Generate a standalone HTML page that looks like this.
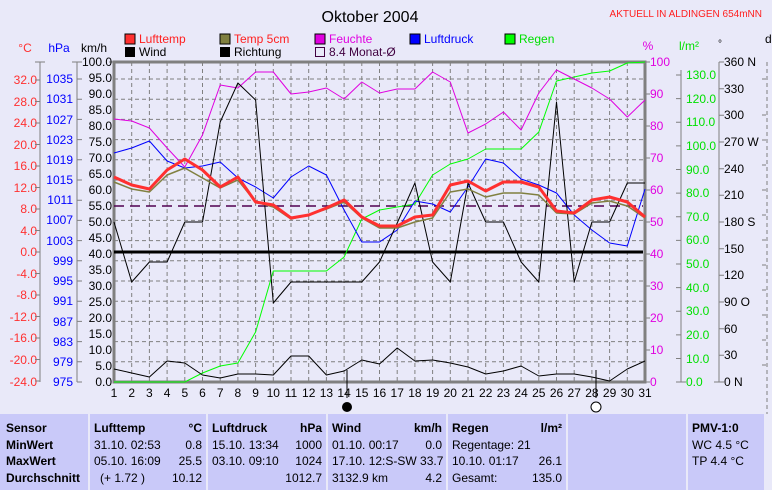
<!DOCTYPE html>
<html><head><meta charset="utf-8"><style>
body{margin:0;background:#e9e9f9;font-family:"Liberation Sans",sans-serif;}
.w{position:relative;width:772px;height:490px;overflow:hidden;background:#e9e9f9;}
svg text{font-family:"Liberation Sans",sans-serif;}
.tb{position:absolute;top:414px;height:80px;background:#c9c9f9;font-size:12px;}
.tb div{position:absolute;white-space:nowrap;}
.b{font-weight:bold;}
</style></head><body><div class="w">
<svg width="772" height="414" style="position:absolute;left:0;top:0">
<text x="370" y="22" font-size="16" text-anchor="middle">Oktober 2004</text>
<text x="762" y="17" font-size="10" fill="#ff2020" text-anchor="end">AKTUELL IN ALDINGEN 654mNN</text>
<g font-size="12">
<rect x="125" y="34" width="10" height="10" fill="#ff3030" stroke="#000"/><text x="139" y="43" fill="#ff2020">Lufttemp</text>
<rect x="125" y="47" width="10" height="10" fill="#000"/><text x="139" y="56">Wind</text>
<rect x="220" y="34" width="10" height="10" fill="#808040" stroke="#000"/><text x="234" y="43" fill="#ff2020">Temp 5cm</text>
<rect x="220" y="47" width="10" height="10" fill="#000"/><text x="234" y="56">Richtung</text>
<rect x="315" y="34" width="10" height="10" fill="#e000e0" stroke="#000"/><text x="329" y="43" fill="#e000e0">Feuchte</text>
<rect x="315.5" y="47.5" width="9" height="9" fill="none" stroke="#400040"/><text x="329" y="56" fill="#400040">8.4 Monat-Ø</text>
<rect x="410" y="34" width="10" height="10" fill="#0000ff" stroke="#000"/><text x="424" y="43" fill="#0000ff">Luftdruck</text>
<rect x="505" y="34" width="10" height="10" fill="#00ff00" stroke="#000"/><text x="519" y="43" fill="#00e000">Regen</text>
<text x="25" y="52" fill="#ff3030" text-anchor="middle">°C</text>
<text x="59" y="52" fill="#0000ff" text-anchor="middle">hPa</text>
<text x="94" y="52" text-anchor="middle">km/h</text>
<text x="648" y="50" fill="#e000e0" text-anchor="middle">%</text>
<text x="689" y="50" fill="#00e000" text-anchor="middle">l/m²</text>
<text x="720" y="47" text-anchor="middle" font-size="10">°</text>
<text x="765" y="43">d</text>
</g>
<!-- grid -->
<g stroke="#808080" stroke-dasharray="4,3" stroke-width="1">
<path d="M131.7 62V382M149.4 62V382M167.1 62V382M184.8 62V382M202.5 62V382M220.2 62V382M237.9 62V382M255.6 62V382M273.3 62V382M291 62V382M308.7 62V382M326.4 62V382M344.1 62V382M361.8 62V382M379.5 62V382M397.2 62V382M414.9 62V382M432.6 62V382M450.3 62V382M468 62V382M485.7 62V382M503.4 62V382M521.1 62V382M538.8 62V382M556.5 62V382M574.2 62V382M591.9 62V382M609.6 62V382M627.3 62V382"/>
<path d="M114 79H645M114 99.2H645M114 119.4H645M114 139.6H645M114 159.8H645M114 180H645M114 200.2H645M114 220.4H645M114 240.6H645M114 260.8H645M114 281H645M114 301.2H645M114 321.4H645M114 341.6H645M114 361.8H645"/>
<path d="M767 62V414"/>
</g>
<rect x="114" y="62" width="531" height="320" fill="none" stroke="#808080" stroke-width="3"/>
<!-- left axes -->
<g stroke="#808080"><path d="M40 62V382M77 62V382M35 62H45M72 62H82M109 62H114"/>
<path d="M681 70V382M719 62V382M676 382H686M714 382H724"/></g>
<g font-size="12" fill="#ff3030" text-anchor="end">
<text x="37" y="84">32.0</text><text x="37" y="106">28.0</text><text x="37" y="127">24.0</text><text x="37" y="149">20.0</text><text x="37" y="170">16.0</text><text x="37" y="192">12.0</text><text x="37" y="213">8.0</text><text x="37" y="235">4.0</text><text x="37" y="256">0.0</text><text x="37" y="278">-4.0</text><text x="37" y="299">-8.0</text><text x="37" y="321">-12.0</text><text x="37" y="342">-16.0</text><text x="37" y="364">-20.0</text><text x="37" y="386">-24.0</text>
</g>
<g stroke="#808080"><path d="M35 80h5M35 101.5h5M35 123h5M35 144.5h5M35 166h5M35 187.5h5M35 209h5M35 230.5h5M35 252h5M35 273.5h5M35 295h5M35 316.5h5M35 338h5M35 359.5h5M35 381h5"/>
<path d="M77 79h5M77 99.2h5M77 119.4h5M77 139.6h5M77 159.8h5M77 180h5M77 200.2h5M77 220.4h5M77 240.6h5M77 260.8h5M77 281h5M77 301.2h5M77 321.4h5M77 341.6h5M77 361.8h5M77 382h5"/></g>
<g font-size="12" fill="#0000ff" text-anchor="end">
<text x="73" y="83">1035</text><text x="73" y="103">1031</text><text x="73" y="124">1027</text><text x="73" y="144">1023</text><text x="73" y="164">1019</text><text x="73" y="184">1015</text><text x="73" y="204">1011</text><text x="73" y="224">1007</text><text x="73" y="245">1003</text><text x="73" y="265">999</text><text x="73" y="285">995</text><text x="73" y="305">991</text><text x="73" y="326">987</text><text x="73" y="346">983</text><text x="73" y="366">979</text><text x="73" y="386">975</text>
</g>
<g font-size="12" text-anchor="end">
<text x="112" y="66">100.0</text><text x="112" y="82">95.0</text><text x="112" y="98">90.0</text><text x="112" y="114">85.0</text><text x="112" y="130">80.0</text><text x="112" y="146">75.0</text><text x="112" y="162">70.0</text><text x="112" y="178">65.0</text><text x="112" y="194">60.0</text><text x="112" y="210">55.0</text><text x="112" y="226">50.0</text><text x="112" y="242">45.0</text><text x="112" y="258">40.0</text><text x="112" y="274">35.0</text><text x="112" y="290">30.0</text><text x="112" y="306">25.0</text><text x="112" y="322">20.0</text><text x="112" y="338">15.0</text><text x="112" y="354">10.0</text><text x="112" y="370">5.0</text><text x="112" y="386">0.0</text>
</g>
<g font-size="12" fill="#e000e0">
<text x="650" y="66">100</text><text x="650" y="98">90</text><text x="650" y="130">80</text><text x="650" y="162">70</text><text x="650" y="194">60</text><text x="650" y="226">50</text><text x="650" y="258">40</text><text x="650" y="290">30</text><text x="650" y="322">20</text><text x="650" y="354">10</text><text x="650" y="386">0</text>
</g>
<g stroke="#808080"><path d="M645 62h5M645 94h5M645 126h5M645 158h5M645 190h5M645 222h5M645 254h5M645 286h5M645 318h5M645 350h5M645 382h5"/>
<path d="M676 75h5M676 98.6h5M676 122.2h5M676 145.9h5M676 169.5h5M676 193.1h5M676 216.7h5M676 240.4h5M676 264h5M676 287.6h5M676 311.2h5M676 334.9h5M676 358.5h5"/>
<path d="M719 62h5M719 88.7h5M719 115.3h5M719 142h5M719 168.7h5M719 195.3h5M719 222h5M719 248.7h5M719 275.3h5M719 302h5M719 328.7h5M719 355.3h5"/></g>
<g font-size="12" fill="#00e000">
<text x="686" y="79">130.0</text><text x="686" y="103">120.0</text><text x="686" y="126">110.0</text><text x="686" y="150">100.0</text><text x="686" y="174">90.0</text><text x="686" y="197">80.0</text><text x="686" y="221">70.0</text><text x="686" y="244">60.0</text><text x="686" y="268">50.0</text><text x="686" y="292">40.0</text><text x="686" y="315">30.0</text><text x="686" y="339">20.0</text><text x="686" y="363">10.0</text><text x="686" y="386">0.0</text>
</g>
<g font-size="12">
<text x="724" y="66">360 N</text><text x="724" y="93">330</text><text x="724" y="119">300</text><text x="724" y="146">270 W</text><text x="724" y="173">240</text><text x="724" y="199">210</text><text x="724" y="226">180 S</text><text x="724" y="253">150</text><text x="724" y="279">120</text><text x="724" y="306">90  O</text><text x="724" y="333">60</text><text x="724" y="359">30</text><text x="724" y="386">0   N</text>
</g>
<g stroke="#808080"><path d="M762 79h4M762 115h4M762 140h4M762 165h4M762 190h4M762 215h4M762 240h4M762 265h4M762 290h4M762 315h4M762 340h4M762 365h4"/></g>
<!-- reference lines -->
<path d="M114 252H643" stroke="#000" stroke-width="3"/>
<path d="M114 206H643" stroke="#500050" stroke-width="1.5" stroke-dasharray="10,6"/>
<path d="M347 370V398M596 370V398" stroke="#000"/>
<!-- series -->
<g fill="none" stroke-linejoin="round">
<polyline stroke="#00ff00" points="114,382 131.7,382 149.4,382 167.1,382 184.8,382 202.5,373 220.2,366 237.9,363 255.6,332 273.3,271 291,271 308.7,271 326.4,271 344.1,257 361.8,219 379.5,210 397.2,207 414.9,204 432.6,175 450.3,164 468,159 485.7,149 503.4,149 521.1,149 538.8,132 556.5,81 574.2,77 591.9,73 609.6,71 627.3,63 645,62"/>
<polyline stroke="#e000e0" points="114,119 131.7,121 149.4,128 167.1,148 184.8,167 202.5,135 220.2,85 237.9,88 255.6,72 273.3,72 291,94 308.7,92 326.4,88 344.1,99 361.8,82 379.5,93 397.2,89 414.9,89 432.6,72 450.3,82 468,133 485.7,124 503.4,112 521.1,130 538.8,93 556.5,70 574.2,79 591.9,88 609.6,99 627.3,117 645,100"/>
<polyline stroke="#0000ff" points="114,153 131.7,148 149.4,141 167.1,161 184.8,168 202.5,166 220.2,162 237.9,178 255.6,187 273.3,198 291,177 308.7,166 326.4,175 344.1,210 361.8,242 379.5,242 397.2,230 414.9,201 432.6,204 450.3,212 468,187 485.7,159 503.4,163 521.1,179 538.8,185 556.5,193 574.2,215 591.9,230 609.6,243 627.3,246 645,189"/>
<polyline stroke="#000" points="114,222 131.7,282 149.4,262 167.1,262 184.8,222 202.5,222 220.2,122 237.9,83 255.6,100 273.3,303 291,282 308.7,282 326.4,282 344.1,282 361.8,282 379.5,262 397.2,223 414.9,183 432.6,262 450.3,282 468,183 485.7,222 503.4,222 521.1,262 538.8,282 556.5,102 574.2,282 591.9,222 609.6,222 627.3,183 645,183"/>
<polyline stroke="#000" points="114,369 131.7,373 149.4,377 167.1,361 184.8,363 202.5,375 220.2,378 237.9,374 255.6,374 273.3,375 291,356 308.7,356 326.4,375 344.1,371 361.8,360 379.5,364 397.2,348 414.9,361 432.6,360 450.3,363 468,367 485.7,374 503.4,371 521.1,366 538.8,376 556.5,374 574.2,374 591.9,377 609.6,381 627.3,369 645,361"/>
<polyline stroke="#808040" stroke-width="1.5" points="114,182 131.7,189 149.4,192 167.1,175 184.8,168 202.5,178 220.2,188 237.9,180 255.6,202 273.3,207 291,219 308.7,215 326.4,209 344.1,202 361.8,218 379.5,228 397.2,228 414.9,222 432.6,218 450.3,192 468,189 485.7,197 503.4,193 521.1,193 538.8,195 556.5,213 574.2,214 591.9,203 609.6,201 627.3,206 645,218"/>
<polyline stroke="#ff3030" stroke-width="3" points="114,177 131.7,185 149.4,189 167.1,170 184.8,159 202.5,170 220.2,187 237.9,177 255.6,202 273.3,205 291,218 308.7,215 326.4,208 344.1,200 361.8,217 379.5,226 397.2,226 414.9,217 432.6,215 450.3,185 468,181 485.7,191 503.4,182 521.1,182 538.8,187 556.5,211 574.2,213 591.9,200 609.6,197 627.3,202 645,217"/>
</g>
<g font-size="12" text-anchor="middle">
<text x="114" y="397">1</text><text x="131.7" y="397">2</text><text x="149.4" y="397">3</text><text x="167.1" y="397">4</text><text x="184.8" y="397">5</text><text x="202.5" y="397">6</text><text x="220.2" y="397">7</text><text x="237.9" y="397">8</text><text x="255.6" y="397">9</text><text x="273.3" y="397">10</text><text x="291" y="397">11</text><text x="308.7" y="397">12</text><text x="326.4" y="397">13</text><text x="344.1" y="397">14</text><text x="361.8" y="397">15</text><text x="379.5" y="397">16</text><text x="397.2" y="397">17</text><text x="414.9" y="397">18</text><text x="432.6" y="397">19</text><text x="450.3" y="397">20</text><text x="468" y="397">21</text><text x="485.7" y="397">22</text><text x="503.4" y="397">23</text><text x="521.1" y="397">24</text><text x="538.8" y="397">25</text><text x="556.5" y="397">26</text><text x="574.2" y="397">27</text><text x="591.9" y="397">28</text><text x="609.6" y="397">29</text><text x="627.3" y="397">30</text><text x="645" y="397">31</text>
</g>
<ellipse cx="347" cy="407" rx="5" ry="5" fill="#000"/>
<ellipse cx="596" cy="407" rx="5" ry="5" fill="#fff" stroke="#000"/>
</svg>
<div class="tb" style="left:0;width:88px"><div class="b" style="left:6px;top:7px">Sensor</div><div class="b" style="left:6px;top:24px">MinWert</div><div class="b" style="left:6px;top:40px">MaxWert</div><div class="b" style="left:6px;top:57px">Durchschnitt</div><div class="b" style="left:6px;top:74px">01.10.</div></div>
<div class="tb" style="left:90px;width:116px"><div class="b" style="left:4px;top:7px">Lufttemp</div><div class="b" style="right:4px;top:7px">°C</div><div style="left:4px;top:24px">31.10.  02:53</div><div style="right:4px;top:24px">0.8</div><div style="left:4px;top:40px">05.10.  16:09</div><div style="right:4px;top:40px">25.5</div><div style="left:10px;top:57px">(+ 1.72 )</div><div style="right:4px;top:57px">10.12</div></div>
<div class="tb" style="left:208px;width:118px"><div class="b" style="left:4px;top:7px">Luftdruck</div><div class="b" style="right:4px;top:7px">hPa</div><div style="left:4px;top:24px">15.10.  13:34</div><div style="right:4px;top:24px">1000</div><div style="left:4px;top:40px">03.10.  09:10</div><div style="right:4px;top:40px">1024</div><div style="right:4px;top:57px">1012.7</div></div>
<div class="tb" style="left:328px;width:118px"><div class="b" style="left:4px;top:7px">Wind</div><div class="b" style="right:4px;top:7px">km/h</div><div style="left:4px;top:24px">01.10.  00:17</div><div style="right:4px;top:24px">0.0</div><div style="left:4px;top:40px">17.10.  12:S-SW 33.7</div><div style="left:4px;top:57px">3132.9 km</div><div style="right:4px;top:57px">4.2</div></div>
<div class="tb" style="left:448px;width:118px"><div class="b" style="left:4px;top:7px">Regen</div><div class="b" style="right:4px;top:7px">l/m²</div><div style="left:4px;top:24px">Regentage: 21</div><div style="left:4px;top:40px">10.10.  01:17</div><div style="right:4px;top:40px">26.1</div><div style="left:4px;top:57px">Gesamt:</div><div style="right:4px;top:57px">135.0</div></div>
<div class="tb" style="left:568px;width:118px"></div>
<div class="tb" style="left:688px;width:76px"><div class="b" style="left:4px;top:7px">PMV-1:0</div><div style="left:4px;top:24px">WC 4.5 °C</div><div style="left:4px;top:40px">TP 4.4 °C</div></div>
</div></body></html>
